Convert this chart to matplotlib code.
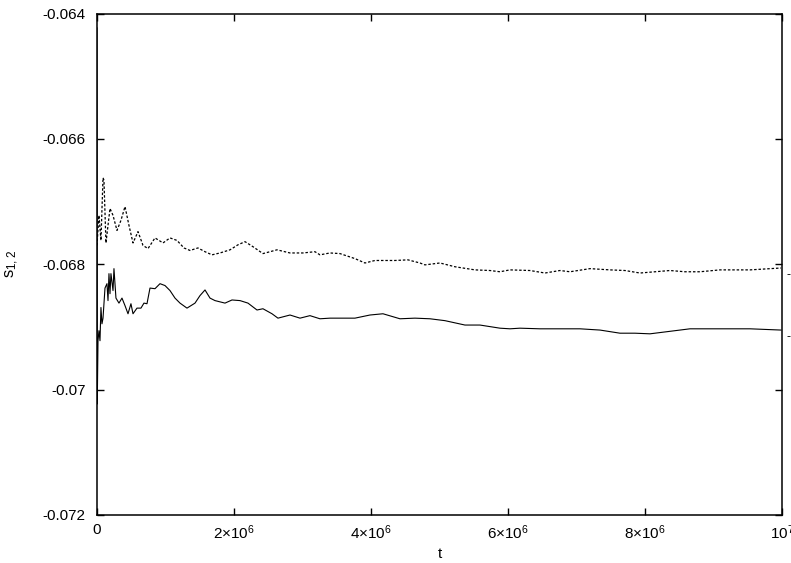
import numpy as np
import matplotlib
matplotlib.use("Agg")
import matplotlib.pyplot as plt

plt.rcParams['font.family'] = ['Liberation Sans', 'DejaVu Sans']
plt.rcParams['mathtext.default'] = 'regular'

# time in units of 1e6 steps
t_dotted = [0.0, 0.029, 0.058, 0.088, 0.102, 0.131, 0.190, 0.234, 0.292, 0.350,
            0.409, 0.467, 0.526, 0.599, 0.672, 0.745, 0.847, 0.964, 1.066, 1.168,
            1.270, 1.358, 1.474, 1.577, 1.679, 1.796, 1.942, 2.058, 2.161, 2.277,
            2.423, 2.526, 2.628, 2.818, 3.007, 3.182, 3.255, 3.401, 3.547, 3.766,
            3.912, 4.058, 4.350, 4.540, 4.715, 4.788, 5.007, 5.226, 5.518, 5.737,
            5.883, 6.029, 6.321, 6.540, 6.759, 6.905, 7.197, 7.489, 7.708, 7.927,
            8.146, 8.365, 8.584, 8.803, 9.095, 9.533, 9.985]
s_dotted = [-0.06770, -0.06722, -0.06762, -0.06662, -0.06666, -0.06766, -0.06711, -0.06722, -0.06746, -0.06730,
            -0.06708, -0.06738, -0.06766, -0.06748, -0.06770, -0.06775, -0.06758, -0.06766, -0.06758, -0.06762,
            -0.06774, -0.06778, -0.06774, -0.06780, -0.06785, -0.06782, -0.06777, -0.06769, -0.06764, -0.06772,
            -0.06783, -0.06780, -0.06777, -0.06782, -0.06782, -0.06780, -0.06785, -0.06782, -0.06783, -0.06791,
            -0.06798, -0.06794, -0.06794, -0.06793, -0.06798, -0.06801, -0.06798, -0.06804, -0.06809, -0.06810,
            -0.06812, -0.06809, -0.06810, -0.06814, -0.06810, -0.06812, -0.06807, -0.06809, -0.06810, -0.06814,
            -0.06812, -0.06810, -0.06812, -0.06812, -0.06809, -0.06809, -0.06806]

t_solid = [0.0, 0.004, 0.015, 0.029, 0.044, 0.058, 0.073, 0.088, 0.117, 0.146,
           0.161, 0.175, 0.190, 0.204, 0.234, 0.248, 0.277, 0.321, 0.365, 0.409,
           0.453, 0.496, 0.526, 0.584, 0.642, 0.686, 0.730, 0.774, 0.847, 0.920,
           0.993, 1.066, 1.139, 1.212, 1.314, 1.431, 1.504, 1.577, 1.650, 1.723,
           1.869, 1.971, 2.088, 2.204, 2.336, 2.423, 2.555, 2.642, 2.818, 2.964,
           3.109, 3.255, 3.401, 3.620, 3.766, 3.985, 4.175, 4.423, 4.642, 4.861,
           5.080, 5.372, 5.591, 5.883, 6.029, 6.175, 6.467, 6.759, 7.051, 7.343,
           7.635, 7.854, 8.073, 8.292, 8.657, 9.095, 9.533, 9.985]
s_solid = [-0.06423, -0.07023, -0.06922, -0.06906, -0.06922, -0.06869, -0.06895, -0.06886, -0.06838, -0.06831,
           -0.06858, -0.06815, -0.06847, -0.06815, -0.06842, -0.06807, -0.06854, -0.06862, -0.06854, -0.06866,
           -0.06879, -0.06863, -0.06879, -0.06870, -0.06870, -0.06862, -0.06863, -0.06838, -0.06839, -0.06831,
           -0.06834, -0.06842, -0.06854, -0.06862, -0.06870, -0.06862, -0.06850, -0.06841, -0.06854, -0.06858,
           -0.06862, -0.06857, -0.06858, -0.06862, -0.06873, -0.06871, -0.06879, -0.06886, -0.06881, -0.06886,
           -0.06882, -0.06887, -0.06886, -0.06886, -0.06886, -0.06881, -0.06879, -0.06887, -0.06886, -0.06887,
           -0.06890, -0.06897, -0.06897, -0.06902, -0.06903, -0.06902, -0.06903, -0.06903, -0.06903, -0.06905,
           -0.06910, -0.06910, -0.06911, -0.06908, -0.06903, -0.06903, -0.06903, -0.06905]

x_ticks = [0, 2e6, 4e6, 6e6, 8e6, 1e7]
x_ticklabels = ['0', r'2$\times$10$^6$', r'4$\times$10$^6$', r'6$\times$10$^6$',
                r'8$\times$10$^6$', r'10$^7$']
y_ticks = [-0.072, -0.07, -0.068, -0.066, -0.064]
y_ticklabels = ['-0.072', '-0.07', '-0.068', '-0.066', '-0.064']

fig = plt.figure(figsize=(7.91, 5.63), dpi=100)
ax = fig.add_axes([0.1226, 0.0853, 0.866, 0.8907])

ax.plot(np.array(t_solid) * 1e6, s_solid, color='black', lw=0.8)
ax.plot(np.array(t_dotted) * 1e6, s_dotted, color='black', lw=0.9,
        linestyle=(0, (2, 1.5)))

ax.set_xlim(0, 1e7)
ax.set_ylim(-0.072, -0.064)
ax.set_xticks(x_ticks)
ax.set_xticklabels(x_ticklabels)
ax.set_yticks(y_ticks)
ax.set_yticklabels(y_ticklabels)
ax.tick_params(direction='in', length=5, width=1, top=True, right=True,
               labelsize=11)
ax.tick_params(axis='y', pad=8)
ax.tick_params(axis='x', pad=6)
for sp in ax.spines.values():
    sp.set_linewidth(1.1)

ax.set_xlabel('t', fontsize=11, labelpad=4)
ax.set_ylabel(r'$s_{1,2}$', fontsize=12, labelpad=16)

# cut-off labels outside the right edge
ax.text(1.006, -0.06817, '-', transform=ax.get_yaxis_transform(),
        fontsize=9, va='center', ha='left')
ax.text(1.006, -0.06916, '-', transform=ax.get_yaxis_transform(),
        fontsize=9, va='center', ha='left')

fig.savefig('out.png', dpi=100)
